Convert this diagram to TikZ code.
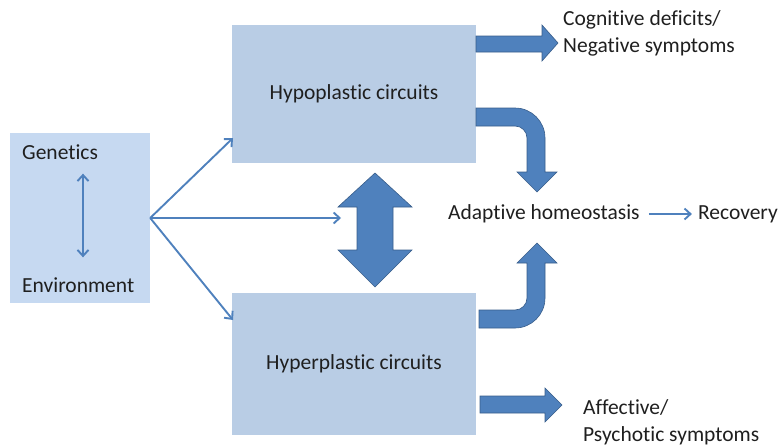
\documentclass[tikz,border=0pt]{standalone}
\usepackage{fontspec}
\setmainfont{Carlito}[Ligatures=NoCommon]
\usepackage{tikz}
\usetikzlibrary{arrows.meta,calc}
\definecolor{boxlight}{RGB}{198,217,241}
\definecolor{boxblue}{RGB}{185,205,229}
\definecolor{arrblue}{RGB}{79,129,189}
\definecolor{arredge}{RGB}{56,93,138}
\tikzset{box/.style={fill=boxblue,draw=none,inner sep=0pt},
         lbl/.style={font=\fontsize{21.5}{27}\selectfont,text=black!88,inner sep=0pt},
         link/.style={-{Straight Barb[length=6pt,width=11pt]},line width=1.9pt,arrblue},
         bigarr/.style={fill=arrblue,draw=arredge,line width=.6pt,line join=miter}}

\begin{document}
\begin{tikzpicture}[x=1pt,y=-1pt]
  \useasboundingbox (0,0) rectangle (780,447);
  % boxes
  \node[box,fill=boxlight,minimum width=140pt,minimum height=170pt] (src) at (80,218) {};
  \node[box,minimum width=244pt,minimum height=138pt] (hypo) at (354,94) {};
  \node[box,minimum width=244pt,minimum height=142pt] (hyper) at (354,364) {};
  \node[lbl] at (hypo) {Hypoplastic circuits};
  \node[lbl] at (hyper) {Hyperplastic circuits};
  \node[lbl,anchor=west] (gen) at (22,152) {Genetics};
  \node[lbl,anchor=west] (env) at (22,285) {Environment};
  \draw[link,{Straight Barb[length=6pt,width=11pt]}-{Straight Barb[length=6pt,width=11pt]},
    shorten <=14pt,shorten >=20pt] (gen.south -| 83,0) -- (env.north -| 83,0);
  % fan out of the left box
  \coordinate (hypoin) at (233,138);
  \coordinate (hyperin) at (233,320);
  \coordinate (midin) at (341,218);
  \draw[link] (src.east) -- (hypoin);
  \draw[link] (src.east) -- (midin);
  \draw[link] (src.east) -- (hyperin);
  % two way block arrow
  \draw[bigarr] (375,173) -- (412,207) -- (393,207) -- (393,250) -- (412,250)
    -- (375,287) -- (338,250) -- (357,250) -- (357,207) -- (338,207) -- cycle;
  % straight block arrows
  \draw[bigarr] (476,36) -- (542,36) -- (542,25) -- (558,43) -- (542,61)
    -- (542,52) -- (476,52) -- cycle;
  \draw[bigarr] (480,396) -- (545,396) -- (545,388) -- (562,405) -- (545,422)
    -- (545,413) -- (480,413) -- cycle;
  % bent block arrows
  \draw[bigarr] (476,108) -- (515,108) arc[start angle=-90,end angle=0,radius=30]
    -- (545,172) -- (557,172) -- (537,192) -- (517,172) -- (527,172) -- (527,138)
    arc[start angle=0,end angle=-90,radius=12] -- (476,126) -- cycle;
  \draw[bigarr] (479,310) -- (515,310) arc[start angle=90,end angle=0,radius=12]
    -- (527,263) -- (517,263) -- (537,243) -- (557,263) -- (545,263) -- (545,298)
    arc[start angle=0,end angle=90,radius=30] -- (479,328) -- cycle;
  % outcomes
  \node[lbl,anchor=west] (adapt) at (448,214) {Adaptive homeostasis};
  \node[lbl,anchor=east] (recov) at (778,214) {Recovery};
  \draw[link] ($(adapt.east)+(9,0)$) -- ($(recov.west)+(-6,0)$);
  \node[lbl,anchor=west,align=left] (cog) at (563,33) {Cognitive deficits/\\Negative symptoms};
  \node[lbl,anchor=west,align=left] (aff) at (583,422) {Affective/\\Psychotic symptoms};
\end{tikzpicture}
\end{document}
